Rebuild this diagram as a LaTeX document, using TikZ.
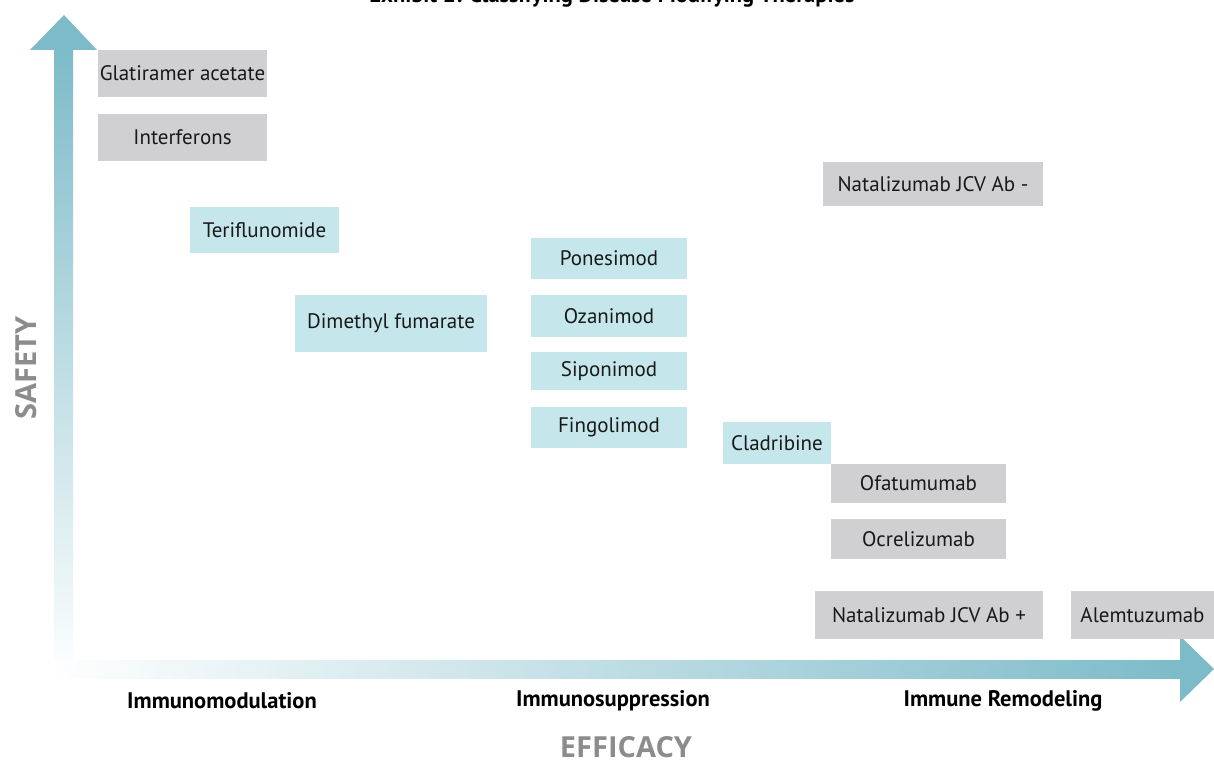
\documentclass[tikz,border=0pt]{standalone}
\usepackage{fontspec}
\setmainfont{PT Sans}
\newfontfamily\axisfont{Open Sans}
\definecolor{axisteal}{HTML}{7DBBC9}
\definecolor{boxgray}{HTML}{D0D0D2}
\definecolor{boxcyan}{HTML}{C5E7EB}
\definecolor{axisgray}{HTML}{8C8C8C}
\begin{document}
\begin{tikzpicture}[x=1pt,y=-1pt,
  drug/.style={inner sep=0pt, align=center, font=\fontsize{21}{23}\selectfont, text=black!90},
  gbox/.style={drug, fill=boxgray},
  cbox/.style={drug, fill=boxcyan},
  cat/.style={font=\fontsize{22.5}{24}\selectfont\bfseries, text=black},
  axislabel/.style={inner sep=0pt, font=\axisfont\fontsize{29}{31}\selectfont\bfseries, text=axisgray}]
\useasboundingbox (0,0) rectangle (1214,762);
\fill[white] (0,0) rectangle (1214,762);

% title (runs past the top edge)
\node[font=\fontsize{22.5}{24}\selectfont\bfseries, anchor=base] (title) at (612,3) {Exhibit 2: Classifying Disease Modifying Therapies};

% vertical axis: SAFETY
\shade[bottom color=white, top color=axisteal] (54,682) rectangle (73,50);
\fill[axisteal] (30,50) -- (64,15) -- (97,50) -- cycle;
% horizontal axis: EFFICACY
\shade[left color=white, right color=axisteal] (46,660) rectangle (1181,678);
\fill[axisteal] (1180,636) -- (1214,669) -- (1180,702) -- cycle;

% therapies
\node[gbox, minimum width=169, minimum height=47] (glat) at (182.5,73.5) {Glatiramer acetate};
\node[gbox, minimum width=169, minimum height=47] (ifn) at (182.5,137.5) {Interferons};
\node[cbox, minimum width=149, minimum height=46] (teri) at (264.5,230) {Teriflunomide};
\node[cbox, minimum width=192, minimum height=57] (dmf) at (391,323.5) {Dimethyl fumarate};
\node[cbox, minimum width=156, minimum height=41] (pone) at (609,258.5) {Ponesimod};
\node[cbox, minimum width=156, minimum height=42] (oza) at (609,316) {Ozanimod};
\node[cbox, minimum width=156, minimum height=38] (sipo) at (609,371) {Siponimod};
\node[cbox, minimum width=156, minimum height=41] (fingo) at (609,427.5) {Fingolimod};
\node[cbox, minimum width=108, minimum height=42] (clad) at (777,443) {Cladribine};
\node[gbox, minimum width=175, minimum height=39] (ofa) at (918.5,483.5) {Ofatumumab};
\node[gbox, minimum width=175, minimum height=40] (ocre) at (918.5,539) {Ocrelizumab};
\node[gbox, minimum width=220, minimum height=44] (natneg) at (933,184) {Natalizumab JCV Ab -};
\node[gbox, minimum width=228, minimum height=48] (natpos) at (929,615) {Natalizumab JCV Ab +};
\node[gbox, minimum width=143, minimum height=48] (alem) at (1142.5,615) {Alemtuzumab};

% categories along the efficacy axis
\node[cat] (imod) at (222,701) {Immunomodulation};
\node[cat] (isup) at (613,701) {Immunosuppression};
\node[cat] (irem) at (1003,701) {Immune Remodeling};

% axis titles
\node[axislabel] (eff) at (626,747) {EFFICACY};
\node[axislabel, rotate=90] (saf) at (26,368) {SAFETY};
\end{tikzpicture}
\end{document}
